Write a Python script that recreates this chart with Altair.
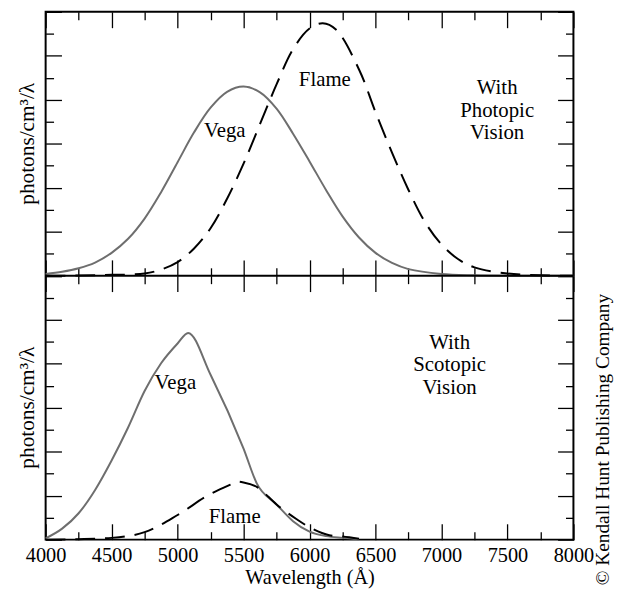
import altair as alt
import pandas as pd

FONT = "Liberation Serif"
GRAY = "#6e6e6e"

# ---------------- data ----------------
# Top panel: photopic vision (panel-local values, 0..6)
top_vega_wl = [4000, 4125, 4250, 4375, 4500, 4625, 4750, 4875, 5000, 5125, 5250, 5375, 5500,
               5625, 5750, 5875, 6000, 6125, 6250, 6375, 6500, 6625, 6750, 7000, 7250, 7500, 8000]
top_vega_val = [0.04, 0.09, 0.17, 0.30, 0.52, 0.84, 1.30, 1.90, 2.58, 3.26, 3.82, 4.18, 4.30,
                4.17, 3.80, 3.23, 2.60, 1.95, 1.35, 0.87, 0.52, 0.29, 0.15, 0.04, 0.01, 0.0, 0.0]

top_flame_wl = [4000, 4250, 4500, 4750, 4875, 5000, 5125, 5250, 5375, 5500, 5625, 5750, 5875,
                6000, 6100, 6200, 6375, 6500, 6625, 6750, 6875, 7000, 7125, 7250, 7500, 7750, 8000]
top_flame_val = [0.0, 0.005, 0.02, 0.05, 0.14, 0.31, 0.62, 1.08, 1.75, 2.55, 3.45, 4.35, 5.15,
                 5.62, 5.74, 5.60, 4.69, 3.72, 2.80, 1.95, 1.22, 0.71, 0.38, 0.19, 0.05, 0.01, 0.0]

# Bottom panel: scotopic vision (0..6)
bot_vega_wl = [4000, 4125, 4250, 4375, 4500, 4625, 4750, 4875, 5000, 5080, 5250, 5500, 5600,
               5750, 5875, 6000, 6125, 6250, 6375]
bot_vega_val = [0.03, 0.25, 0.60, 1.13, 1.80, 2.55, 3.38, 4.01, 4.46, 4.70, 3.75, 2.07, 1.28,
                0.80, 0.42, 0.18, 0.08, 0.04, 0.01]

bot_flame_wl = [4000, 4250, 4500, 4750, 5000, 5250, 5400, 5450, 5500, 5600, 5750, 5900, 6000,
                6150, 6250, 6375]
bot_flame_val = [0.0, 0.01, 0.04, 0.17, 0.56, 1.04, 1.25, 1.32, 1.30, 1.20, 0.80, 0.47, 0.28,
                 0.10, 0.07, 0.02]

# ticks (y runs 0..6 for the bottom panel and 6..12 for the top panel)
x_major = [4000, 4500, 5000, 5500, 6000, 6500, 7000, 7500, 8000]
x_minor = [4250, 4750, 5250, 5750, 6250, 6750, 7250, 7750]
y_major = list(range(0, 13))
y_minor = [v + 0.5 for v in range(0, 12)]
PANEL_SPLIT = 6

# annotations (panel-local data coordinates)
top_vega_lab = {"x": 5358, "val": 3.29, "t": "Vega"}
top_flame_lab = {"x": 6116, "val": 4.44, "t": "Flame"}
top_cond = {"x": 7422, "val": 4.26, "t": ["With", "Photopic", "Vision"]}
bot_vega_lab = {"x": 4983, "val": 3.57, "t": "Vega"}
bot_flame_lab = {"x": 5433, "val": 0.52, "t": "Flame"}
bot_cond = {"x": 7062, "val": 4.47, "t": ["With", "Scotopic", "Vision"]}
y_title = "photons/cm³/λ"
x_title = "Wavelength (Å)"
copyright_text = "© Kendall Hunt Publishing Company"

W = 533
H = 533
HALF = H / 2
MAJOR = 16
MINOR = 8

xs = alt.Scale(domain=[4000, 8000], nice=False, zero=False)
ys = alt.Scale(domain=[0, 12], nice=False, zero=False)


def tick_axis(orient, offset, values, size):
    return alt.Axis(orient=orient, offset=offset, values=values, tickSize=size, ticks=True,
                    labels=False, domain=False, grid=False, title=None,
                    tickColor="black", tickWidth=1.3)


# x axes: inward ticks on bottom edge, top edge, and both sides of the middle line
ax_bot_maj = tick_axis("top", -H, x_major, MAJOR)
ax_bot_min = tick_axis("top", -H, x_minor, MINOR)
ax_top_maj = tick_axis("bottom", -H, x_major, MAJOR)
ax_top_min = tick_axis("bottom", -H, x_minor, MINOR)
ax_midup_maj = tick_axis("top", -HALF, x_major, MAJOR)
ax_midup_min = tick_axis("top", -HALF, x_minor, MINOR)
ax_middn_maj = tick_axis("bottom", -HALF, x_major, MAJOR)
ax_middn_min = tick_axis("bottom", -HALF, x_minor, MINOR)
ax_labels = alt.Axis(orient="bottom", values=x_major, ticks=False, tickSize=0, domain=False,
                     grid=False, labelFont=FONT, labelFontSize=20.5, labelColor="black",
                     labelPadding=6, labelFlush=False, format="d",
                     title=x_title, titleFont=FONT, titleFontSize=20.5,
                     titleFontWeight="normal", titleColor="black", titlePadding=2)
# y axes: inward ticks on left and right edges
ay_left_maj = tick_axis("right", -W, y_major, MAJOR)
ay_left_min = tick_axis("right", -W, y_minor, MINOR)
ay_right_maj = tick_axis("left", -W, y_major, MAJOR)
ay_right_min = tick_axis("left", -W, y_minor, MINOR)


def line(wl, val, top, color, dash, interp, xaxis, yaxis):
    df = pd.DataFrame({"wl": wl, "val": val})
    kw = dict(color=color, strokeWidth=2, interpolate=interp)
    if dash:
        kw["strokeDash"] = [20, 10]
    ch = alt.Chart(df).mark_line(**kw)
    ch = ch.transform_calculate(yy=f"datum.val + {PANEL_SPLIT if top else 0}")
    return ch.encode(x=alt.X("wl:Q", scale=xs, axis=xaxis),
                     y=alt.Y("yy:Q", scale=ys, axis=yaxis))


def label(d, top, xaxis):
    ch = alt.Chart(alt.InlineData(values=[d])).mark_text(
        font=FONT, fontSize=21, color="black", align="center", baseline="middle",
        lineHeight=22.5)
    ch = ch.transform_calculate(yy=f"datum.val + {PANEL_SPLIT if top else 0}")
    return ch.encode(x=alt.X("x:Q", scale=xs, axis=xaxis),
                     y=alt.Y("yy:Q", scale=ys, axis=None), text="t:N")


layers = [
    line(top_vega_wl, top_vega_val, True, GRAY, False, "catmull-rom", ax_labels, ay_left_maj),
    line(top_flame_wl, top_flame_val, True, "black", True, "catmull-rom", ax_bot_maj, ay_left_min),
    line(bot_vega_wl, bot_vega_val, False, GRAY, False, "monotone", ax_bot_min, ay_right_maj),
    line(bot_flame_wl, bot_flame_val, False, "black", True, "monotone", ax_top_maj, ay_right_min),
    label(top_vega_lab, True, ax_top_min),
    label(top_flame_lab, True, ax_midup_maj),
    label(top_cond, True, ax_midup_min),
    label(bot_vega_lab, False, ax_middn_maj),
    label(bot_flame_lab, False, ax_middn_min),
    label(bot_cond, False, None),
]

# middle line between the panels
mid = alt.Chart(alt.InlineData(values=[{"split": PANEL_SPLIT}])).mark_rule(
    color="black", strokeWidth=2).encode(y=alt.Y("split:Q", scale=ys, axis=None))
layers.append(mid)

# y titles, one per panel (centred on each panel)
ytitles = alt.Chart(alt.InlineData(values=[{"c": PANEL_SPLIT * 1.5, "t": y_title},
                                          {"c": PANEL_SPLIT * 0.5, "t": y_title}])).mark_text(
    font=FONT, fontSize=21.5, color="black", angle=270, align="center",
    baseline="alphabetic").encode(
    x=alt.value(-12), y=alt.Y("c:Q", scale=ys, axis=None), text="t:N")
layers.append(ytitles)

cp = alt.Chart(alt.InlineData(values=[{"t": copyright_text}])).mark_text(
    font=FONT, fontSize=19.5, color="black", angle=270, align="left",
    baseline="top").encode(x=alt.value(W + 21), y=alt.value(H + 46), text="t:N")
layers.append(cp)

chart = alt.layer(*layers).resolve_axis(x="independent", y="independent").properties(
    width=W, height=H,
    autosize=alt.AutoSizeParams(type="none"),
    padding={"left": 38, "top": 1, "right": 44, "bottom": 49},
).configure_view(stroke="black", strokeWidth=2)

chart.save("out.html", embed_options={"renderer": "svg", "actions": False})
